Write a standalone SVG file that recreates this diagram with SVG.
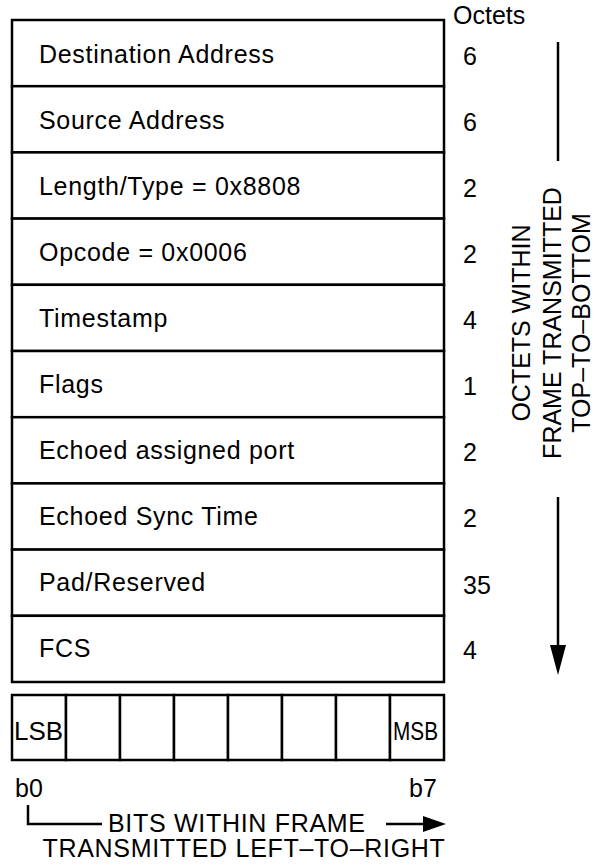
<svg xmlns="http://www.w3.org/2000/svg" width="595" height="865" viewBox="0 0 595 865">
<style>
  text { font-family: "Liberation Sans", Arial, sans-serif; fill: #000; }
  .lbl { font-size: 25px; letter-spacing: 0.7px; }
  .num { font-size: 25px; }
  .vt { font-size: 25px; }
  .cell { fill: #fff; stroke: #000; stroke-width: 2.5; }
  .ln { stroke: #000; stroke-width: 2.5; fill: none; }
</style>
<text class="num" x="453" y="24">Octets</text>

<g id="f1"><rect class="cell" x="12" y="20" width="432" height="66.2"/><text class="lbl" x="39" y="63">Destination Address</text><text class="num" x="463" y="65">6</text></g>
<g id="f2"><rect class="cell" x="12" y="86.2" width="432" height="66.2"/><text class="lbl" x="39" y="129">Source Address</text><text class="num" x="463" y="131">6</text></g>
<g id="f3"><rect class="cell" x="12" y="152.4" width="432" height="66.2"/><text class="lbl" x="39" y="195">Length/Type = 0x8808</text><text class="num" x="463" y="197">2</text></g>
<g id="f4"><rect class="cell" x="12" y="218.6" width="432" height="66.2"/><text class="lbl" x="39" y="261">Opcode = 0x0006</text><text class="num" x="463" y="263">2</text></g>
<g id="f5"><rect class="cell" x="12" y="284.8" width="432" height="66.2"/><text class="lbl" x="39" y="327">Timestamp</text><text class="num" x="463" y="329">4</text></g>
<g id="f6"><rect class="cell" x="12" y="351" width="432" height="66.2"/><text class="lbl" x="39" y="393">Flags</text><text class="num" x="463" y="395">1</text></g>
<g id="f7"><rect class="cell" x="12" y="417.2" width="432" height="66.2"/><text class="lbl" x="39" y="459">Echoed assigned port</text><text class="num" x="463" y="461">2</text></g>
<g id="f8"><rect class="cell" x="12" y="483.4" width="432" height="66.2"/><text class="lbl" x="39" y="525">Echoed Sync Time</text><text class="num" x="463" y="527">2</text></g>
<g id="f9"><rect class="cell" x="12" y="549.6" width="432" height="66.2"/><text class="lbl" x="39" y="591">Pad/Reserved</text><text class="num" x="463" y="594">35</text></g>
<g id="f10"><rect class="cell" x="12" y="615.8" width="432" height="66.2"/><text class="lbl" x="39" y="657">FCS</text><text class="num" x="463" y="659">4</text></g>

<g id="bits">
  <rect class="cell" x="12" y="695" width="54" height="65"/>
  <rect class="cell" x="66" y="695" width="54" height="65"/>
  <rect class="cell" x="120" y="695" width="54" height="65"/>
  <rect class="cell" x="174" y="695" width="54" height="65"/>
  <rect class="cell" x="228" y="695" width="54" height="65"/>
  <rect class="cell" x="282" y="695" width="54" height="65"/>
  <rect class="cell" x="336" y="695" width="54" height="65"/>
  <rect class="cell" x="390" y="695" width="54" height="65"/>
  <text class="num" x="14" y="740" textLength="49" lengthAdjust="spacingAndGlyphs">LSB</text>
  <text class="num" x="393" y="740" textLength="45" lengthAdjust="spacingAndGlyphs">MSB</text>
</g>

<g id="vlabel">
  <text class="vt" text-anchor="middle" transform="translate(530,323) rotate(-90)">OCTETS WITHIN</text>
  <text class="vt" text-anchor="middle" transform="translate(561,323) rotate(-90)">FRAME TRANSMITTED</text>
  <text class="vt" text-anchor="middle" transform="translate(590,323) rotate(-90)">TOP–TO–BOTTOM</text>
</g>

<g id="hlabel">
  <text class="num" x="15" y="797">b0</text>
  <text class="num" x="409" y="797">b7</text>
  <text class="lbl" x="108" y="832">BITS WITHIN FRAME</text>
  <text class="lbl" x="244" y="857" text-anchor="middle">TRANSMITTED LEFT–TO–RIGHT</text>
</g>

<g id="connectors">
  <line class="ln" x1="558" y1="42" x2="558" y2="161"/>
  <path class="ln" d="M558,497 L558,645"/>
  <path d="M550,645 L566,645 L558,675 Z" fill="#000"/>
  <path class="ln" d="M28,805 L28,824 L102,824"/>
  <line class="ln" x1="386" y1="824" x2="424" y2="824"/>
  <path d="M423,816 L446,824 L423,832 Z" fill="#000"/>
</g>
</svg>
